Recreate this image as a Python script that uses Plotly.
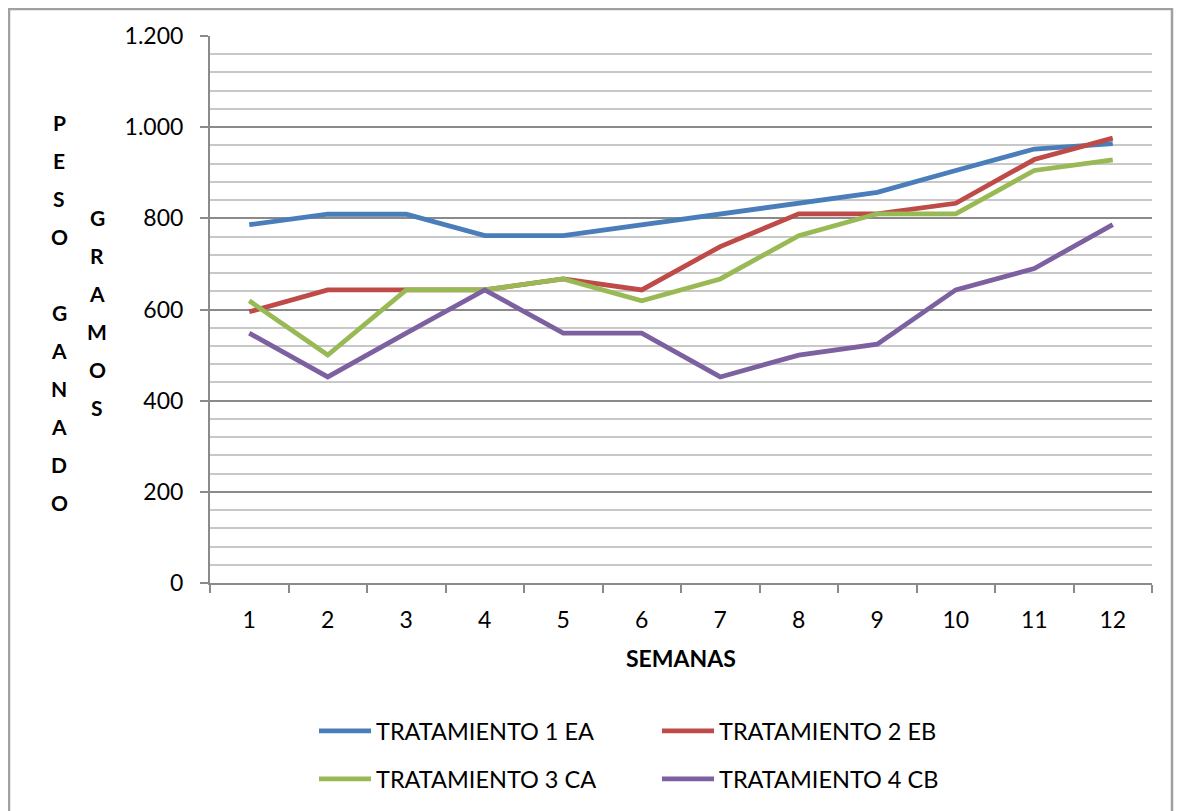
import plotly.graph_objects as go

semanas = ["1", "2", "3", "4", "5", "6", "7", "8", "9", "10", "11", "12"]
t1_ea = [786, 809, 809, 762, 762, 786, 810, 834, 857, 905, 952, 964]
t2_eb = [595, 643, 643, 643, 667, 643, 738, 810, 810, 833, 929, 976]
t3_ca = [619, 500, 643, 643, 667, 619, 667, 762, 810, 810, 905, 928]
t4_cb = [548, 452, 548, 643, 548, 548, 452, 500, 524, 643, 690, 786]
series_names = ["TRATAMIENTO 1 EA", "TRATAMIENTO 2 EB", "TRATAMIENTO 3 CA", "TRATAMIENTO 4 CB"]
colors = ["#4A7EBB", "#BE4B48", "#98B954", "#7D60A0"]
y_title_col1 = "PESO GANADO"
y_title_col2 = "GRAMOS"
x_title = "SEMANAS"

# page is drawn with the browser's 8px body margin
OFF = 8
PAGE_W, PAGE_H = 1183, 811
W, H = PAGE_W - OFF, PAGE_H - OFF
# plot area in page pixels
L, R, T, B = 210, 1152, 36, 584
FONT = "Lato"

def px(x):
    return (x - L) / (R - L)

def py(y):
    return (B - y) / (B - T)

fig = go.Figure()
legends = ["legend", "legend", "legend2", "legend2"]
for name, vals, col, lg in zip(series_names, [t1_ea, t2_eb, t3_ca, t4_cb], colors, legends):
    fig.add_trace(go.Scatter(x=semanas, y=vals, name=name, mode="lines",
                             line=dict(color=col, width=4.8), legend=lg))

title_font = dict(family=FONT, size=21, color="black", weight="bold")
annotations = []
for i, ch in enumerate(y_title_col1):
    if ch == " ":
        continue
    annotations.append(dict(x=px(59), y=py(123 + 38 * i), xref="paper", yref="paper",
                            text=ch, showarrow=False, xanchor="center", yanchor="middle",
                            font=title_font))
for i, ch in enumerate(y_title_col2):
    annotations.append(dict(x=px(97), y=py(218 + 38 * i), xref="paper", yref="paper",
                            text=ch, showarrow=False, xanchor="center", yanchor="middle",
                            font=title_font))
annotations.append(dict(x=px(681), y=py(659), xref="paper", yref="paper", text=x_title,
                        showarrow=False, xanchor="center", yanchor="middle",
                        font=dict(family=FONT, size=23, color="black", weight="bold")))

legend_style = dict(orientation="h", font=dict(family=FONT, size=23.5, color="black"),
                    itemwidth=52, entrywidth=276, bgcolor="rgba(0,0,0,0)",
                    xanchor="left", yanchor="middle", tracegroupgap=0, itemclick=False)

fig.update_layout(
    width=W, height=H, autosize=False,
    margin=dict(l=L - OFF, r=PAGE_W - R, t=T - OFF, b=PAGE_H - B, pad=0),
    paper_bgcolor="white", plot_bgcolor="white",
    separators=",.",
    font=dict(family=FONT, size=23, color="black"),
    showlegend=True,
    legend=dict(x=px(314), y=py(731), **legend_style),
    legend2=dict(x=px(314), y=py(779), **legend_style),
    annotations=annotations,
    xaxis=dict(type="category", showgrid=False, showline=True, linecolor="#8a8a8a", linewidth=2,
               ticks="outside", tickson="boundaries", ticklen=8, tickcolor="#8a8a8a", tickwidth=2,
               tickfont=dict(family=FONT, size=23, color="black"), ticklabelstandoff=15,
               range=[-0.5, 11.5], zeroline=False),
    yaxis=dict(range=[0, 1200], dtick=200, tickformat=",d", showgrid=True, gridcolor="#8a8a8a",
               gridwidth=1.5, showline=True, linecolor="#8a8a8a", linewidth=2,
               ticks="outside", ticklen=8, tickcolor="#8a8a8a", tickwidth=2,
               tickfont=dict(family=FONT, size=23, color="black"), ticklabelstandoff=12,
               zeroline=False,
               minor=dict(dtick=40, showgrid=True, gridcolor="#c8c8c8", gridwidth=1.5, ticks="")),
    shapes=[dict(type="path", xref="paper", yref="paper",
                 path=f"M {px(9)} {py(830)} L {px(9)} {py(9)} L {px(1172)} {py(9)} L {px(1172)} {py(830)}",
                 line=dict(color="#a0a0a0", width=2.5), layer="below")],
)

fig.write_html("out.html")
